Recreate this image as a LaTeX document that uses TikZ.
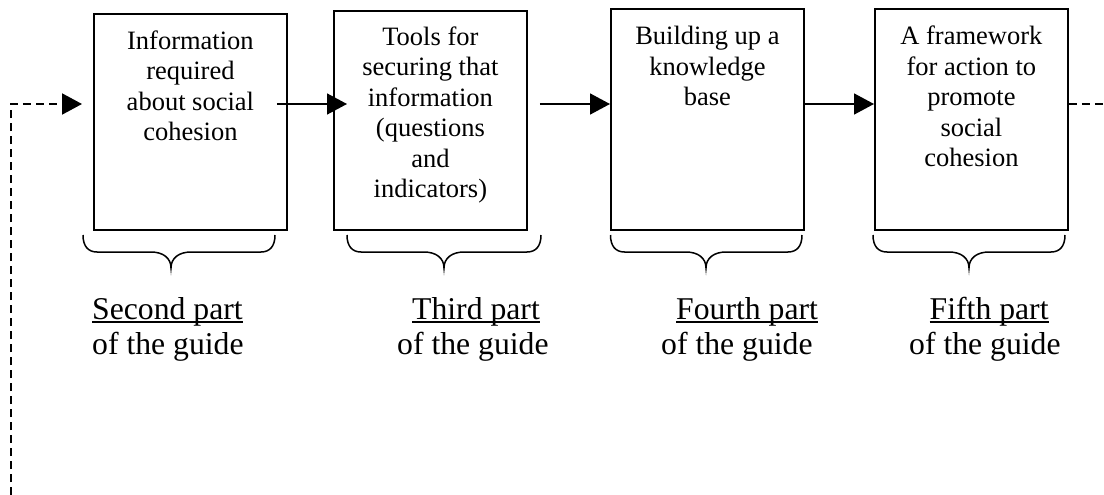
\documentclass[tikz,border=0pt]{standalone}
\usepackage{fontspec}
\setmainfont{Liberation Serif}
\usetikzlibrary{arrows.meta,calc}
\newcommand\myul[1]{\setbox0\hbox{#1}\rlap{\rule[-3.8pt]{\wd0}{1.5pt}}\box0}
\newcommand\mybrace[3]{\draw[brc] (#1,235) .. controls (#1,246) and (#1+5,252) .. (#1+14,252) -- (#3-20,252) .. controls (#3-8,252) and (#3,258) .. (#3,268) .. controls (#3,258) and (#3+8,252) .. (#3+20,252) -- (#2-14,252) .. controls (#2-5,252) and (#2,246) .. (#2,235);}
\begin{document}
\begin{tikzpicture}[x=1pt,y=-1pt,
 box/.style={draw,line width=1.8pt,minimum width=193pt,anchor=north west,inner sep=0},
 txt/.style={align=center,anchor=north,inner sep=0,font=\fontsize{26.5}{30.5}\selectfont},
 lbl/.style={anchor=base west,inner sep=0,font=\fontsize{31.7}{34}\selectfont},
 arr/.style={line width=1.6pt,-{Triangle[length=20pt,width=21pt]}},
 dsh/.style={line width=2pt,dash pattern=on 8pt off 5pt},
 brc/.style={line width=1.5pt}]
\useasboundingbox (0,0) rectangle (1104,495);
% boxes
\node[box,minimum height=216pt] (b1) at (93,13) {};
\node[box,minimum height=219pt] (b2) at (333,10) {};
\node[box,minimum height=221pt] (b3) at (610,8) {};
\node[box,minimum height=221pt] (b4) at (874,8) {};
% box texts
\node[txt] (t1) at ($(b1.north)+(0,14.6)$) {\strut Information\\required\\about social\\cohesion};
\node[txt] (t2) at ($(b2.north)+(0,13.6)$) {\strut Tools for\\securing that\\information\\(questions\\and\\indicators)};
\node[txt] (t3) at ($(b3.north)+(0,15.1)$) {\strut Building up a\\knowledge\\base};
\node[txt] (t4) at ($(b4.north)+(0,15.1)$) {\strut A framework\\for action to\\promote\\social\\cohesion};
% connectors
\coordinate (lvl) at (0,104);
\coordinate (loopstart) at (11,495);
\coordinate (outend) at (1104,104);
\draw[dsh,-{Triangle[length=20pt,width=21pt]}] (loopstart) |- ($(b1.west|-lvl)+(-11,0)$);
\draw[arr] ($(b1.east|-lvl)+(-11,0)$) -- ($(b2.west|-lvl)+(14,0)$);
\draw[arr] ($(b2.east|-lvl)+(12,0)$) -- (b3.west|-lvl);
\draw[arr] (b3.east|-lvl) -- (b4.west|-lvl);
\draw[dsh] (b4.east|-lvl) -- (outend);
% braces
\mybrace{83}{275}{171}
\mybrace{347}{541}{444}
\mybrace{610.5}{802}{706}
\mybrace{873}{1065}{969}
% labels
\node[lbl] (l1a) at (92,319) {\myul{Second part}};
\node[lbl] (l1b) at (92,354) {of the guide};
\node[lbl] (l2a) at (412,319) {\myul{Third part}};
\node[lbl] (l2b) at (397,354) {of the guide};
\node[lbl] (l3a) at (676,319) {\myul{Fourth part}};
\node[lbl] (l3b) at (661,354) {of the guide};
\node[lbl] (l4a) at (929.5,319) {\myul{Fifth part}};
\node[lbl] (l4b) at (909,354) {of the guide};
\end{tikzpicture}
\end{document}
